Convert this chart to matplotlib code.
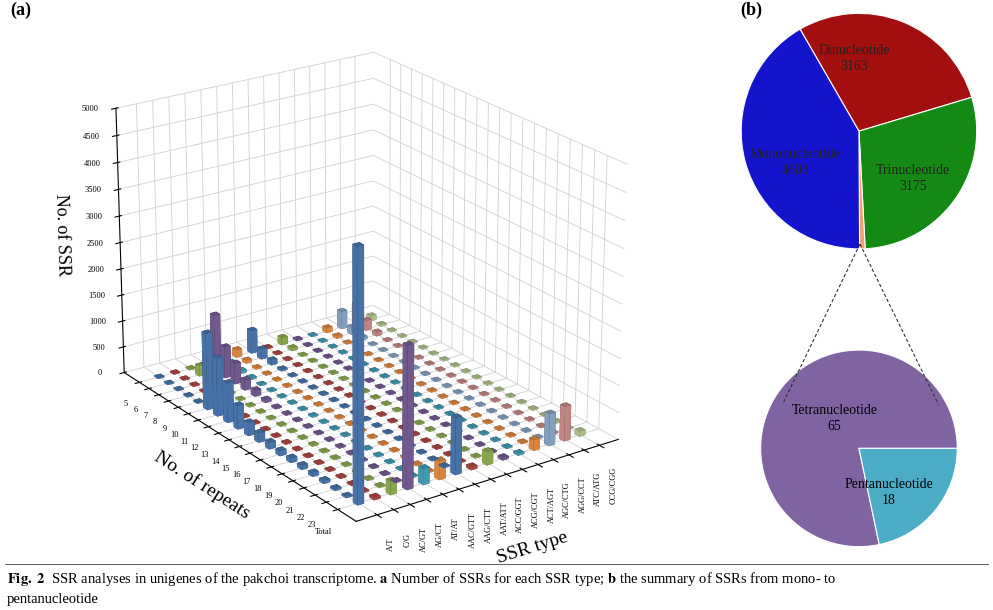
import matplotlib.pyplot as plt
import numpy as np
from mpl_toolkits.mplot3d import Axes3D  # noqa: F401
from matplotlib.lines import Line2D

plt.rcParams['font.family'] = ['Liberation Serif', 'DejaVu Serif']
plt.rcParams['mathtext.fontset'] = 'stix'

repeats = ['5', '6', '7', '8', '9', '10', '11', '12', '13', '14', '15', '16', '17',
           '18', '19', '20', '21', '22', '23', 'Total']
ssr_types = ['A/T', 'C/G', 'AC/GT', 'AG/CT', 'AT/AT', 'AAC/GTT', 'AAG/CTT', 'AAT/ATT',
             'ACC/GGT', 'ACG/CGT', 'ACT/AGT', 'AGC/CTG', 'AGG/CCT', 'ATC/ATG', 'CCG/CGG']
# counts per SSR type, repeats 5..23 then Total
counts = {
    'A/T':     [0, 0, 0, 0, 0, 1450, 1100, 750, 450, 250, 180, 130, 100, 90, 80, 70, 60, 40, 30, 4550],
    'C/G':     [0, 0, 0, 0, 0, 20, 10, 5, 5, 0, 0, 0, 0, 0, 0, 0, 0, 0, 0, 50],
    'AC/GT':   [0, 200, 80, 0, 0, 0, 0, 0, 0, 0, 0, 0, 0, 0, 0, 0, 0, 0, 0, 250],
    'AG/CT':   [0, 1100, 600, 400, 200, 120, 60, 30, 20, 10, 0, 0, 0, 0, 0, 0, 0, 0, 0, 2600],
    'AT/AT':   [0, 100, 60, 40, 20, 10, 0, 0, 0, 0, 0, 0, 0, 0, 0, 0, 0, 0, 0, 300],
    'AAC/GTT': [150, 60, 30, 0, 0, 0, 0, 0, 0, 0, 0, 0, 0, 0, 0, 0, 0, 0, 0, 350],
    'AAG/CTT': [450, 200, 100, 40, 20, 0, 0, 0, 0, 0, 0, 0, 0, 0, 0, 0, 0, 0, 0, 1050],
    'AAT/ATT': [30, 10, 0, 0, 0, 0, 0, 0, 0, 0, 0, 0, 0, 0, 0, 0, 0, 0, 0, 60],
    'ACC/GGT': [150, 60, 20, 0, 0, 0, 0, 0, 0, 0, 0, 0, 0, 0, 0, 0, 0, 0, 0, 250],
    'ACG/CGT': [30, 10, 0, 0, 0, 0, 0, 0, 0, 0, 0, 0, 0, 0, 0, 0, 0, 0, 0, 50],
    'ACT/AGT': [20, 10, 0, 0, 0, 0, 0, 0, 0, 0, 0, 0, 0, 0, 0, 0, 0, 0, 0, 40],
    'AGC/CTG': [100, 50, 20, 0, 0, 0, 0, 0, 0, 0, 0, 0, 0, 0, 0, 0, 0, 0, 0, 200],
    'AGG/CCT': [350, 150, 60, 20, 0, 0, 0, 0, 0, 0, 0, 0, 0, 0, 0, 0, 0, 0, 0, 600],
    'ATC/ATG': [400, 200, 80, 20, 0, 0, 0, 0, 0, 0, 0, 0, 0, 0, 0, 0, 0, 0, 0, 650],
    'CCG/CGG': [100, 40, 10, 0, 0, 0, 0, 0, 0, 0, 0, 0, 0, 0, 0, 0, 0, 0, 0, 100],
}
colors = ['#4F81BD', '#C0504D', '#9BBB59', '#8064A2', '#4BACC6', '#F79646',
          '#4F81BD', '#C0504D', '#9BBB59', '#8064A2', '#4BACC6', '#F79646',
          '#95B3D7', '#D99694', '#C3D69B']

class_names = ['Dinucleotide', 'Trinucleotide', 'Tetra+Penta', 'Mononucleotide']
class_counts = [3163, 3175, 83, 4603]
class_colors = ['#A30F0F', '#148A14', '#F4A070', '#1414CC']
sub_names = ['Tetranucleotide', 'Pentanucleotide']
sub_counts = [65, 18]
sub_colors = ['#8064A2', '#4BACC6']

fig = plt.figure(figsize=(9.93, 6.10), dpi=100)

# (a) 3D bar chart
ax = fig.add_axes([-0.04, 0.06, 0.8, 0.96], projection='3d')
nr = len(repeats)
for xi, t in enumerate(ssr_types):
    vals = np.array(counts[t], dtype=float)
    ys = nr - 1 - np.arange(nr)
    h = np.maximum(vals, 25)
    ax.bar3d(np.full(nr, xi) - 0.2, ys - 0.2, np.zeros(nr), 0.4, 0.4, h,
             color=colors[xi], shade=True, edgecolor='none')
ax.set_zlim(0, 5000)
ax.set_zticks(np.arange(0, 5001, 500))
ax.set_xticks(range(len(ssr_types)))
ax.set_xticklabels(ssr_types, rotation=90, fontsize=6)
ax.set_yticks(range(nr))
ax.set_yticklabels(repeats[::-1], fontsize=6)
ax.tick_params(axis='z', labelsize=6)
ax.set_xlabel('SSR type', fontsize=14, labelpad=14)
ax.set_ylabel('No. of repeats', fontsize=14, labelpad=6)
ax.set_zlabel('No. of SSR', fontsize=13, labelpad=6)
for a in (ax.xaxis, ax.yaxis, ax.zaxis):
    a.set_pane_color((1, 1, 1, 0))
    a._axinfo['grid']['color'] = (0.82, 0.82, 0.82, 1)
    a._axinfo['grid']['linewidth'] = 0.6
ax.view_init(elev=22, azim=-125)
ax.set_box_aspect((1.2, 1.6, 1.1))
fig.text(0.01, 0.975, '(a)', fontsize=13, fontweight='bold')

# (b) pies
fig.text(0.745, 0.975, '(b)', fontsize=13, fontweight='bold')
axp = fig.add_axes([0.745, 0.59, 0.24, 0.39])
axp.pie(class_counts, colors=class_colors, startangle=120, counterclock=False,
        wedgeprops=dict(edgecolor='white', linewidth=0.8))
axp.set_xlim(-1.01, 1.01)
axp.set_ylim(-1.01, 1.01)
axp.set_aspect('equal')
lab_pos = [(-0.04, 0.62), (0.46, -0.4), None, (-0.54, -0.27)]
for pos, n, c in zip(lab_pos, class_names, class_counts):
    if pos is None:
        continue
    axp.text(pos[0], pos[1], f'{n}\n{c}', ha='center', va='center', fontsize=10,
             color='#222222', linespacing=1.3)

axs = fig.add_axes([0.765, 0.1, 0.2, 0.33])
axs.pie(sub_counts, colors=sub_colors, startangle=0, counterclock=True,
        wedgeprops=dict(edgecolor='white', linewidth=0.8))
axs.set_xlim(-1.01, 1.01)
axs.set_ylim(-1.01, 1.01)
axs.set_aspect('equal')
axs.text(-0.25, 0.3, f'{sub_names[0]}\n{sub_counts[0]}', ha='center', va='center',
         fontsize=10, linespacing=1.3)
axs.text(0.3, -0.45, f'{sub_names[1]}\n{sub_counts[1]}', ha='center', va='center',
         fontsize=10, linespacing=1.3)

for x1 in (0.788, 0.945):
    fig.add_artist(Line2D([0.866, x1], [0.6, 0.337], transform=fig.transFigure,
                          color='#333333', lw=0.8, ls=(0, (3, 2))))

fig.add_artist(Line2D([0.005, 0.995], [0.075, 0.075], transform=fig.transFigure,
                      color='#444444', lw=0.6))
fig.text(0.007, 0.045, r'$\mathbf{Fig.\ 2}$  SSR analyses in unigenes of the pakchoi transcriptome. '
         r'$\mathbf{a}$ Number of SSRs for each SSR type; $\mathbf{b}$ the summary of SSRs from mono- to',
         fontsize=10.5)
fig.text(0.007, 0.012, 'pentanucleotide', fontsize=10.5)

fig.savefig('out.png', dpi=100)
